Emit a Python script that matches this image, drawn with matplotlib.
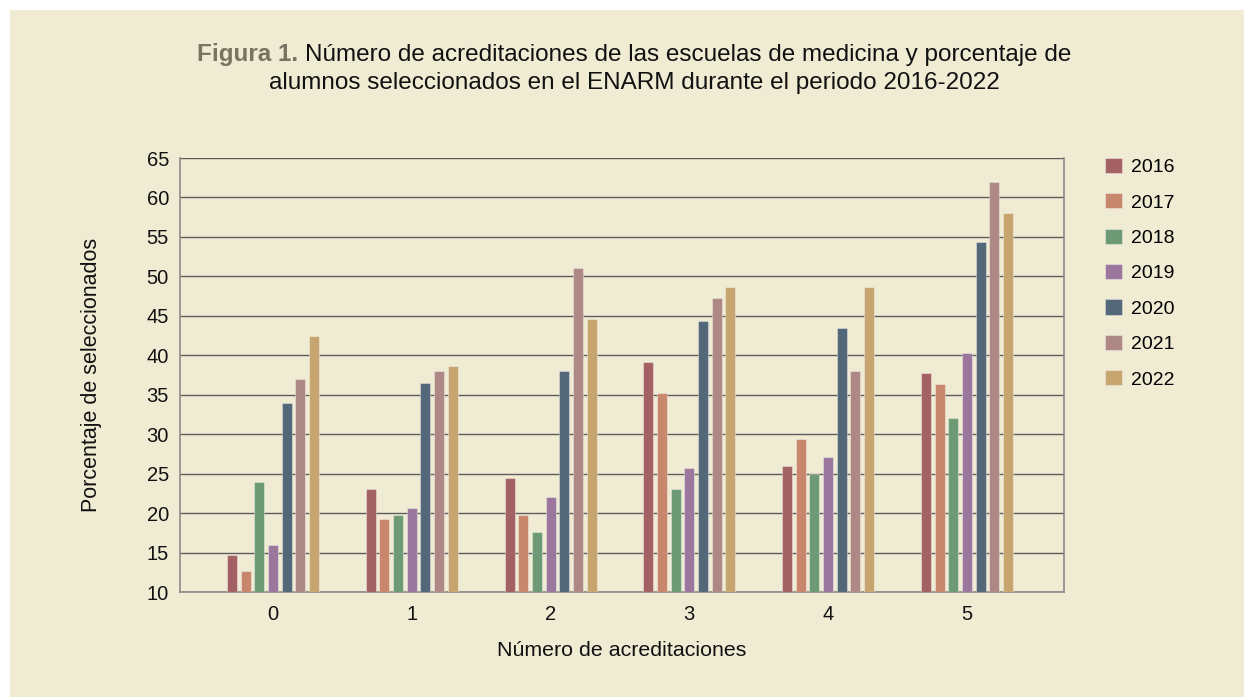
import numpy as np
import matplotlib
matplotlib.use("Agg")
import matplotlib.pyplot as plt
from matplotlib.patches import Rectangle
from matplotlib.offsetbox import TextArea, HPacker, AnnotationBbox

plt.rcParams['font.family'] = ['Liberation Sans', 'DejaVu Sans']

# data
acreditaciones = ['0', '1', '2', '3', '4', '5']
years = ['2016', '2017', '2018', '2019', '2020', '2021', '2022']
pct_2016 = [14.7, 23.0, 24.4, 39.1, 26.0, 37.8]
pct_2017 = [12.6, 19.3, 19.7, 35.2, 29.4, 36.3]
pct_2018 = [24.0, 19.7, 17.6, 23.1, 25.0, 32.1]
pct_2019 = [15.9, 20.7, 22.0, 25.7, 27.1, 40.3]
pct_2020 = [34.0, 36.5, 38.0, 44.3, 43.5, 54.4]
pct_2021 = [37.0, 38.0, 51.1, 47.3, 38.0, 62.0]
pct_2022 = [42.5, 38.7, 44.6, 48.7, 48.7, 58.0]
series = [pct_2016, pct_2017, pct_2018, pct_2019, pct_2020, pct_2021, pct_2022]

colors = ['#a36163', '#c8876c', '#6d9a74', '#9b779e', '#526879', '#ad8885', '#c6a56f']
bg = '#f0ecd4'

fig = plt.figure(figsize=(12.44, 6.97), dpi=100, facecolor='white')
# beige panel (white strip on top and left)
fig.patches.append(Rectangle((10 / 1244, 0), 1, 1 - 10 / 697, transform=fig.transFigure,
                             facecolor=bg, edgecolor='none', zorder=-10))

ax = fig.add_axes([180 / 1244, 1 - 592 / 697, 884 / 1244, 434 / 697])
ax.set_facecolor(bg)

x = np.arange(len(acreditaciones))
pitch = 0.0985
width = 0.072
for i, (vals, c, yr) in enumerate(zip(series, colors, years)):
    ax.bar(x + (i - 3) * pitch, np.array(vals) - 10, bottom=10, width=width, color=c,
           edgecolor=(1, 1, 1, 0.35), linewidth=0.8, label=yr, zorder=3)

ax.set_ylim(10, 65)
ax.set_yticks(np.arange(10, 66, 5))
ax.set_xlim(-0.67, 5.70)
ax.set_xticks(x)
ax.set_xticklabels(acreditaciones)
ax.yaxis.grid(True, color='#5c5c5c', linewidth=1.0, zorder=0)
ax.set_axisbelow(True)
ax.tick_params(length=0, labelsize=14.5, colors='#111111')
ax.tick_params(axis='y', pad=8)
ax.tick_params(axis='x', pad=9)
ax.spines['top'].set_visible(False)
for s in ['left', 'right', 'bottom']:
    ax.spines[s].set_color('#8a8a8a')
    ax.spines[s].set_linewidth(1.2)

fig.text(92 / 1244, 1 - 375 / 697, 'Porcentaje de seleccionados', rotation=90,
         ha='center', va='center', fontsize=15.5, color='#111111')
fig.text(622 / 1244, 1 - 650 / 697, 'Número de acreditaciones',
         ha='center', va='center', fontsize=15.4, color='#111111')

# title with bold coloured prefix
t1 = TextArea('Figura 1. ', textprops=dict(fontsize=17.5, fontweight='bold', color='#7a7362'))
t2 = TextArea('Número de acreditaciones de las escuelas de medicina y porcentaje de',
              textprops=dict(fontsize=17.5, color='#111111'))
line1 = HPacker(children=[t1, t2], align='baseline', pad=0, sep=0)
ab = AnnotationBbox(line1, (634 / 1244, 1 - 55 / 697), xycoords='figure fraction',
                    frameon=False, box_alignment=(0.5, 0.5))
fig.add_artist(ab)
fig.text(634 / 1244, 1 - 83 / 697, 'alumnos seleccionados en el ENARM durante el periodo 2016-2022',
         ha='center', va='center', fontsize=17.5, color='#111111')

fig.legend(loc='upper left', bbox_to_anchor=(1097 / 1244, 1 - 150 / 697), frameon=False,
           fontsize=14, handlelength=0.88, handleheight=0.82, handletextpad=0.45,
           labelspacing=0.88, borderaxespad=0)

fig.savefig('out.png', dpi=100, facecolor=fig.get_facecolor())
